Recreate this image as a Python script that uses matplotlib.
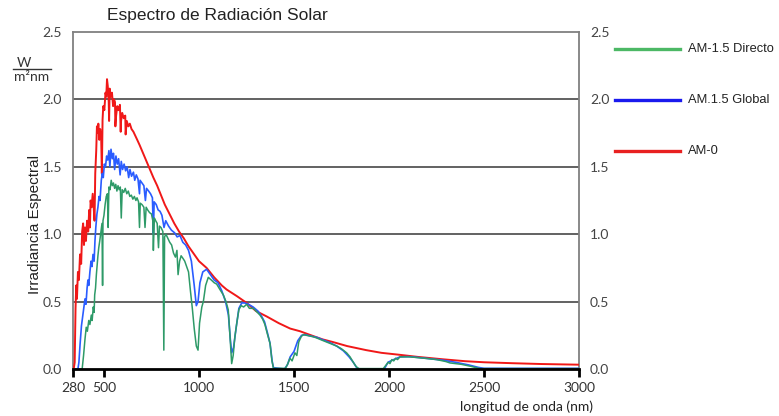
import numpy as np
import matplotlib
matplotlib.use("Agg")
import matplotlib.pyplot as plt
from matplotlib.lines import Line2D

# Irradiancia espectral (W / m2 nm)
am0_wl = [285, 292, 298, 303, 308, 315, 322, 330, 338, 345, 352, 358, 365, 372, 380, 388,
          395, 400, 405, 412, 420, 428, 433, 438, 445, 450, 455, 460, 467, 473, 480, 485,
          490, 495, 502, 508, 512, 516, 520, 525, 527, 530, 536, 542, 548, 553, 558, 560,
          564, 570, 577, 584, 588, 590, 596, 604, 612, 614, 620, 628, 636, 645, 655, 665,
          675, 688, 700, 715, 730, 745, 760, 780, 800, 820, 845, 870, 895, 920, 945, 970,
          1000, 1040, 1080, 1120, 1145, 1200, 1251, 1300, 1356, 1420, 1480, 1532, 1600,
          1650, 1705, 1780, 1880, 1960, 2058, 2150, 2284, 2400, 2500, 2650, 2800, 3000]
am0_val = [0.0, 0.05, 0.45, 0.62, 0.52, 0.72, 0.66, 0.85, 0.78, 1.02, 1.08, 0.92, 1.05, 0.95,
           1.10, 1.02, 1.18, 1.05, 1.25, 1.20, 1.30, 1.18, 1.10, 1.45, 1.62, 1.80, 1.75, 1.82,
           1.70, 1.78, 1.72, 1.45, 1.85, 1.95, 1.92, 2.05, 2.02, 2.15, 2.10, 1.98, 1.84, 2.08,
           2.02, 2.05, 1.95, 2.00, 1.98, 1.80, 1.88, 1.95, 1.92, 1.96, 1.76, 1.84, 1.90, 1.86,
           1.88, 1.74, 1.84, 1.80, 1.82, 1.78, 1.76, 1.73, 1.70, 1.66, 1.62, 1.57, 1.52, 1.47,
           1.42, 1.36, 1.29, 1.22, 1.15, 1.08, 1.02, 0.97, 0.91, 0.86, 0.80, 0.75, 0.68, 0.62,
           0.59, 0.54, 0.49, 0.43, 0.39, 0.34, 0.30, 0.28, 0.245, 0.22, 0.20, 0.17, 0.14, 0.12,
           0.105, 0.09, 0.072, 0.058, 0.05, 0.043, 0.037, 0.032]

glob_wl = [300, 315, 322, 330, 340, 350, 358, 365, 372, 380, 386, 392, 400, 408, 415, 422,
           430, 436, 442, 450, 457, 465, 472, 481, 488, 495, 502, 508, 514, 520, 526, 531,
           537, 544, 550, 556, 563, 570, 577, 585, 591, 598, 606, 614, 622, 630, 637, 645,
           655, 662, 670, 679, 687, 690, 700, 710, 718, 724, 735, 745, 755, 760, 764, 775,
           785, 795, 805, 816, 825, 840, 855, 872, 885, 900, 915, 930, 945, 960, 975, 986,
           995, 1005, 1020, 1040, 1060, 1080, 1100, 1120, 1140, 1155, 1165, 1172, 1182, 1195,
           1210, 1225, 1240, 1260, 1285, 1310, 1330, 1345, 1360, 1374, 1385, 1392, 1450,
           1465, 1480, 1500, 1520, 1540, 1560, 1585, 1620, 1654, 1690, 1725, 1760, 1790,
           1812, 1830, 1845, 1975, 1995, 2010, 2025, 2058, 2100, 2150, 2200, 2280, 2350,
           2420, 2470, 2500, 3000]
glob_val = [0.0, 0.0, 0.05, 0.18, 0.32, 0.40, 0.46, 0.52, 0.48, 0.60, 0.66, 0.62, 0.72, 0.80,
            0.76, 0.85, 0.80, 0.95, 1.05, 1.15, 1.20, 1.28, 1.25, 1.40, 1.45, 1.42, 1.52, 1.50,
            1.58, 1.55, 1.62, 1.50, 1.63, 1.56, 1.60, 1.48, 1.58, 1.52, 1.56, 1.44, 1.54, 1.48,
            1.52, 1.47, 1.50, 1.42, 1.48, 1.43, 1.46, 1.40, 1.44, 1.41, 1.30, 1.40, 1.38, 1.36,
            1.25, 1.34, 1.32, 1.30, 1.27, 1.00, 1.24, 1.22, 1.18, 1.17, 1.14, 1.05, 1.10, 1.06,
            1.03, 1.01, 0.98, 0.99, 0.94, 0.92, 0.88, 0.80, 0.62, 0.47, 0.50, 0.64, 0.72, 0.74,
            0.70, 0.66, 0.64, 0.58, 0.50, 0.40, 0.22, 0.12, 0.16, 0.30, 0.45, 0.49, 0.49, 0.48,
            0.46, 0.43, 0.39, 0.35, 0.27, 0.19, 0.06, 0.01, 0.0, 0.03, 0.09, 0.13, 0.21, 0.25,
            0.255, 0.245, 0.235, 0.215, 0.195, 0.17, 0.135, 0.09, 0.05, 0.01, 0.0, 0.0, 0.05,
            0.06, 0.07, 0.09, 0.092, 0.086, 0.078, 0.066, 0.05, 0.03, 0.012, 0.005, 0.005]

dir_wl = [330, 345, 355, 365, 374, 382, 392, 400, 410, 416, 424, 430, 434, 440, 446, 452,
          457, 463, 470, 476, 481, 486, 490, 493, 500, 506, 512, 518, 522, 526, 532, 538,
          544, 550, 556, 562, 568, 574, 580, 586, 591, 596, 604, 612, 620, 628, 636, 644,
          652, 660, 668, 674, 682, 687, 691, 700, 710, 716, 722, 730, 740, 750, 757, 760,
          765, 772, 780, 787, 792, 800, 810, 815, 819, 826, 836, 846, 856, 866, 876, 884,
          890, 898, 906, 916, 925, 935, 945, 955, 965, 975, 986, 995, 1003, 1015, 1023, 1035,
          1049, 1065, 1080, 1093, 1110, 1128, 1142, 1154, 1163, 1172, 1180, 1189, 1200,
          1210, 1222, 1235, 1251, 1265, 1286, 1300, 1321, 1335, 1347, 1360, 1374, 1384,
          1392, 1455, 1468, 1479, 1490, 1505, 1515, 1525, 1538, 1549, 1565, 1584, 1600,
          1620, 1654, 1690, 1725, 1750, 1777, 1795, 1812, 1826, 1840, 1970, 1985, 1996,
          2005, 2015, 2025, 2035, 2045, 2058, 2080, 2111, 2150, 2200, 2250, 2300, 2321,
          2380, 2430, 2479, 3000]
dir_val = [0.0, 0.0, 0.10, 0.22, 0.31, 0.28, 0.36, 0.33, 0.40, 0.36, 0.46, 0.42, 0.55, 0.60,
           0.70, 0.78, 0.84, 0.90, 0.95, 1.00, 1.04, 1.08, 0.62, 1.10, 1.14, 1.22, 1.28, 1.30,
           1.05, 1.35, 1.33, 1.40, 1.36, 1.38, 1.34, 1.37, 1.32, 1.36, 1.33, 1.35, 1.12, 1.33,
           1.31, 1.34, 1.30, 1.32, 1.28, 1.29, 1.26, 1.28, 1.25, 1.27, 1.24, 1.05, 1.23, 1.22,
           1.20, 1.05, 1.20, 1.18, 1.16, 1.15, 1.10, 0.88, 1.12, 1.10, 1.08, 0.90, 1.06, 1.05,
           1.02, 0.14, 0.98, 1.00, 0.97, 0.94, 0.92, 0.86, 0.83, 0.88, 0.70, 0.80, 0.84, 0.82,
           0.80, 0.76, 0.72, 0.58, 0.45, 0.30, 0.17, 0.14, 0.34, 0.46, 0.50, 0.62, 0.68, 0.66,
           0.64, 0.63, 0.59, 0.55, 0.50, 0.44, 0.25, 0.04, 0.10, 0.24, 0.35, 0.44, 0.47, 0.46,
           0.48, 0.45, 0.45, 0.43, 0.40, 0.37, 0.33, 0.26, 0.19, 0.06, 0.005, 0.005, 0.04,
           0.08, 0.06, 0.12, 0.10, 0.20, 0.24, 0.255, 0.25, 0.245, 0.24, 0.23, 0.21, 0.19,
           0.17, 0.15, 0.12, 0.09, 0.05, 0.02, 0.003, 0.003, 0.03, 0.05, 0.04, 0.07, 0.06,
           0.08, 0.07, 0.09, 0.09, 0.09, 0.085, 0.078, 0.07, 0.055, 0.045, 0.035, 0.02,
           0.003, 0.003]

x_ticks = [280, 500, 1000, 1500, 2000, 2500, 3000]
y_ticks = [0.0, 0.5, 1.0, 1.5, 2.0, 2.5]
series_names = ["AM-1.5 Directo", "AM.1.5 Global", "AM-0"]


# el tramo 280-500 nm esta comprimido en el original
def fwd(x):
    x = np.asarray(x, dtype=float)
    return np.where(x < 500, 500 - (500 - x) * 163 / 220, x)


def inv(y):
    y = np.asarray(y, dtype=float)
    return np.where(y < 500, 500 - (500 - y) * 220 / 163, y)


fig = plt.figure(figsize=(7.79, 4.16), dpi=100)
ax = fig.add_axes([73 / 779, 47 / 416, 506 / 779, 337 / 416])
ax.set_xscale("function", functions=(fwd, inv))

ax.plot(am0_wl, am0_val, color="#f01818", lw=1.4, zorder=3)
ax.plot(glob_wl, glob_val, color="#2a5cff", lw=1.2, zorder=4)
ax.plot(dir_wl, dir_val, color="#2e9a68", lw=1.1, zorder=5)

ax.set_xlim(280, 3000)
ax.set_ylim(0, 2.5)
ax.set_xticks(x_ticks)
ax.set_xticklabels([str(t) for t in x_ticks], fontsize=10, family="Lato", color="#333333")
ax.set_yticks(y_ticks)
ax.set_yticklabels([f"{t:.1f}" for t in y_ticks], fontsize=10, family="Lato", color="#444444")
ax.tick_params(axis="x", length=6, width=2, color="black", pad=3)
ax.tick_params(axis="y", length=0, pad=8, labelright=True)
ax.xaxis.set_minor_locator(plt.NullLocator())

for yv in y_ticks[1:-1]:
    ax.axhline(yv, color="#555555", lw=1.3, zorder=1)

ax.spines["bottom"].set_color("black")
ax.spines["bottom"].set_linewidth(2)
ax.spines["bottom"].set_zorder(6)
for s in ["left", "right", "top"]:
    ax.spines[s].set_color("#808080")
    ax.spines[s].set_linewidth(1.3)

# titulos y etiquetas
fig.text(107 / 779, 1 - 20 / 416, "Espectro de Radiación Solar", fontsize=12.5,
         family="Liberation Sans", color="#222222", ha="left", va="baseline")
fig.text(35 / 779, 1 - 225 / 416, "Irradiancia Espectral", fontsize=11,
         family="Liberation Sans", color="#222222", rotation=90, ha="center", va="center")
fig.text(593 / 779, 1 - 411 / 416, "longitud de onda (nm)", fontsize=10,
         family="Lato", color="#222222", ha="right", va="baseline")
fig.text(24 / 779, 1 - 63 / 416, "W", fontsize=10, family="Lato", color="#333333",
         ha="center", va="center")
fig.add_artist(Line2D([13 / 779, 51 / 779], [1 - 69 / 416, 1 - 69 / 416],
                      color="#333333", lw=1))
fig.text(32 / 779, 1 - 77 / 416, "m²nm", fontsize=10, family="Lato", color="#333333",
         ha="center", va="center")

# leyenda
leg_colors = ["#4cb865", "#1a1aee", "#e82020"]
leg_y = [49, 100, 151]
for name, c, yy in zip(series_names, leg_colors, leg_y):
    fy = 1 - yy / 416
    fig.add_artist(Line2D([615 / 779, 680 / 779], [fy, fy], color=c, lw=2.4))
    fig.text(688 / 779, fy, name, fontsize=9.3, family="Liberation Sans",
             color="#222222", ha="left", va="center")

fig.savefig("out.png", dpi=100)
